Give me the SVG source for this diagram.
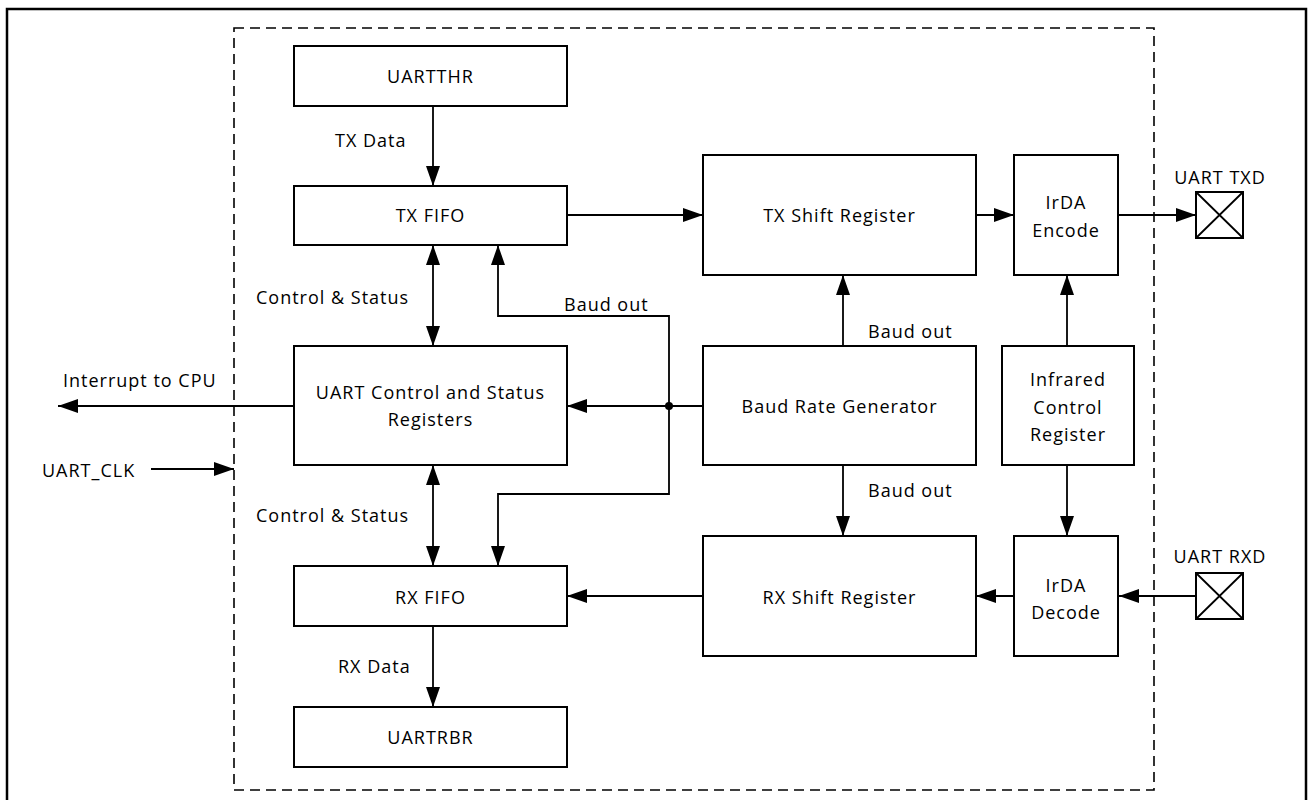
<svg xmlns="http://www.w3.org/2000/svg" width="1308" height="800" viewBox="0 0 1308 800">
<defs>
<style>
.box{fill:#fff;stroke:#000;stroke-width:2}
.ln{fill:none;stroke:#000;stroke-width:1.8}
.t{font-family:"Open Sans","Liberation Sans",sans-serif;font-size:18px;letter-spacing:1px;fill:#000}
.c{text-anchor:middle}
</style>
<marker id="ah" viewBox="0 0 20 14" refX="20" refY="7" markerWidth="20" markerHeight="14" markerUnits="userSpaceOnUse" orient="auto-start-reverse">
<path d="M0,0 L20,7 L0,14 z" fill="#000"/>
</marker>
</defs>
<rect width="1308" height="800" fill="#fff"/>
<rect x="7" y="9" width="1299" height="796" fill="none" stroke="#000" stroke-width="2.5"/>
<rect id="boundary" x="234" y="28" width="920" height="762" fill="none" stroke="#000" stroke-width="1.6" stroke-dasharray="10 6"/>

<g id="connectors">
<path class="ln" d="M433,106 V186" marker-end="url(#ah)"/>
<path class="ln" d="M433,245 V346" marker-start="url(#ah)" marker-end="url(#ah)"/>
<path class="ln" d="M433,465 V566" marker-start="url(#ah)" marker-end="url(#ah)"/>
<path class="ln" d="M433,626 V707" marker-end="url(#ah)"/>
<path class="ln" d="M567,215 H703" marker-end="url(#ah)"/>
<path class="ln" d="M976,215 H1014" marker-end="url(#ah)"/>
<path class="ln" d="M1119,215 H1196" marker-end="url(#ah)"/>
<path class="ln" d="M1196,596 H1119" marker-end="url(#ah)"/>
<path class="ln" d="M1014,596 H976" marker-end="url(#ah)"/>
<path class="ln" d="M703,596 H567" marker-end="url(#ah)"/>
<path class="ln" d="M703,406 H567" marker-end="url(#ah)"/>
<path class="ln" d="M669,406 V316 H498 V245" marker-end="url(#ah)"/>
<path class="ln" d="M669,406 V494 H498 V566" marker-end="url(#ah)"/>
<path class="ln" d="M843,346 V275" marker-end="url(#ah)"/>
<path class="ln" d="M843,465 V536" marker-end="url(#ah)"/>
<path class="ln" d="M1067,346 V275" marker-end="url(#ah)"/>
<path class="ln" d="M1067,465 V536" marker-end="url(#ah)"/>
<path class="ln" d="M294,406 H58" marker-end="url(#ah)"/>
<path class="ln" d="M151,469 H234" marker-end="url(#ah)"/>
<circle cx="669" cy="406" r="4" fill="#000"/>
<text class="t" x="335" y="147">TX Data</text>
<text class="t" x="256" y="304">Control &amp; Status</text>
<text class="t" x="256" y="522">Control &amp; Status</text>
<text class="t" x="338" y="673">RX Data</text>
<text class="t" x="564" y="311">Baud out</text>
<text class="t" x="868" y="338">Baud out</text>
<text class="t" x="868" y="497">Baud out</text>
<text class="t" x="63" y="387">Interrupt to CPU</text>
<text class="t" x="42" y="477">UART_CLK</text>
</g>

<g id="uartthr"><rect class="box" x="294" y="46" width="273" height="60"/><text class="t c" x="430.5" y="83">UARTTHR</text></g>
<g id="txfifo"><rect class="box" x="294" y="186" width="273" height="59"/><text class="t c" x="430.5" y="222">TX FIFO</text></g>
<g id="csr"><rect class="box" x="294" y="346" width="273" height="119"/><text class="t c" x="430.5" y="399">UART Control and Status</text><text class="t c" x="430.5" y="426">Registers</text></g>
<g id="rxfifo"><rect class="box" x="294" y="566" width="273" height="60"/><text class="t c" x="430.5" y="604">RX FIFO</text></g>
<g id="uartrbr"><rect class="box" x="294" y="707" width="273" height="60"/><text class="t c" x="430.5" y="744">UARTRBR</text></g>
<g id="txshift"><rect class="box" x="703" y="155" width="273" height="120"/><text class="t c" x="839.5" y="222">TX Shift Register</text></g>
<g id="brg"><rect class="box" x="703" y="346" width="273" height="119"/><text class="t c" x="839.5" y="413">Baud Rate Generator</text></g>
<g id="rxshift"><rect class="box" x="703" y="536" width="273" height="120"/><text class="t c" x="839.5" y="604">RX Shift Register</text></g>
<g id="irdaenc"><rect class="box" x="1014" y="155" width="104" height="120"/><text class="t c" x="1066" y="209">IrDA</text><text class="t c" x="1066" y="237">Encode</text></g>
<g id="ircr"><rect class="box" x="1002" y="346" width="132" height="119"/><text class="t c" x="1068" y="386">Infrared</text><text class="t c" x="1068" y="414">Control</text><text class="t c" x="1068" y="441">Register</text></g>
<g id="irdadec"><rect class="box" x="1014" y="536" width="104" height="120"/><text class="t c" x="1066" y="592">IrDA</text><text class="t c" x="1066" y="619">Decode</text></g>
<g id="txd"><rect class="box" x="1196" y="192" width="47" height="46"/><path class="ln" d="M1196,192 L1243,238 M1243,192 L1196,238"/><text class="t c" x="1220" y="184">UART TXD</text></g>
<g id="rxd"><rect class="box" x="1196" y="573" width="47" height="46"/><path class="ln" d="M1196,573 L1243,619 M1243,573 L1196,619"/><text class="t c" x="1220" y="563">UART RXD</text></g>
</svg>
